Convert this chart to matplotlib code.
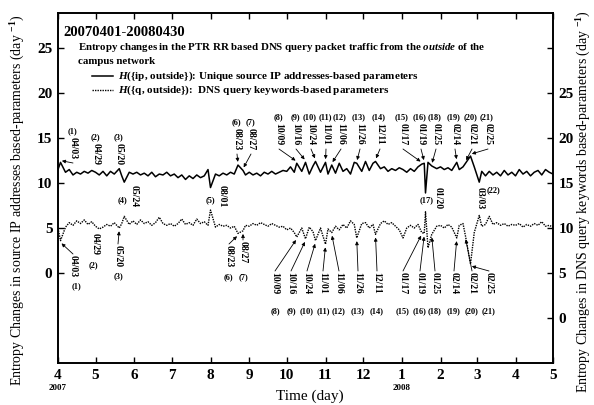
import matplotlib
matplotlib.use("Agg")
import matplotlib.pyplot as plt
from matplotlib.lines import Line2D

plt.rcParams['font.family'] = ['Liberation Serif', 'DejaVu Serif']
plt.rcParams['mathtext.fontset'] = 'custom'
plt.rcParams['mathtext.rm'] = 'Liberation Serif:bold'
plt.rcParams['mathtext.it'] = 'Liberation Serif:italic:bold'
plt.rcParams['mathtext.bf'] = 'Liberation Serif:bold'

W, H = 594, 405

# days since 2007-04-01 (about one sample every third day, event days kept)
days = [0, 2, 6, 9, 12, 15, 18, 21, 24, 27,
        30, 33, 36, 39, 42, 45, 49, 51, 53, 57, 60,
        63, 66, 69, 72, 75, 78, 81, 84, 87, 90,
        93, 96, 99, 102, 105, 108, 111, 114, 117, 120,
        122, 126, 129, 132, 135, 138, 141, 144, 148, 150,
        153, 156, 159, 162, 165, 168, 171, 174, 177, 180,
        183, 186, 189, 191, 195, 198, 201, 204, 206, 210,
        214, 216, 219, 222, 225, 228, 231, 234, 237, 239, 243,
        246, 249, 252, 254, 258, 261, 264, 267, 270, 273,
        276, 279, 282, 285, 288, 291, 293, 294, 296, 299, 303,
        306, 309, 312, 315, 319, 321, 324, 326, 330, 333,
        337, 339, 342, 345, 348, 351, 354, 357, 360, 363,
        366, 369, 372, 375, 378, 381, 384, 387, 390, 393, 396]

# H({ip, outside}), left axis
ip_outside = [11.5, 12.3, 11.2, 11.5, 10.9, 11.2, 11.0, 11.3, 11.1, 11.4,
              11.2, 10.9, 11.3, 10.8, 11.3, 11.0, 11.6, 10.8, 10.1, 11.2, 11.0,
              11.2, 10.9, 11.1, 10.8, 11.2, 10.7, 11.0, 10.9, 11.2, 10.8,
              11.0, 10.6, 10.9, 10.4, 10.8, 10.5, 10.9, 10.6, 10.8, 11.5,
              9.5, 11.0, 10.8, 11.1, 10.9, 11.2, 11.0, 12.0, 11.4, 10.9,
              11.2, 10.9, 11.1, 10.8, 11.2, 11.0, 11.3, 11.0, 11.2, 11.4,
              11.3, 11.8, 11.2, 12.2, 11.3, 12.3, 11.0, 11.9, 12.4, 11.2,
              12.3, 11.0, 12.0, 11.1, 12.2, 11.3, 11.6, 11.0, 12.3, 12.2, 11.3,
              12.4, 11.4, 12.2, 12.4, 11.6, 11.8, 11.3, 11.6, 11.4, 11.7,
              11.5, 11.2, 11.6, 11.3, 11.8, 12.1, 12.2, 8.9, 12.3, 11.9, 11.6,
              11.8, 11.5, 11.7, 11.4, 12.3, 11.5, 11.8, 12.2, 13.0, 11.8,
              10.1, 11.3, 10.8, 11.3, 10.9, 11.2, 10.8, 11.4, 10.9, 11.2,
              10.8, 11.5, 11.0, 11.3, 10.8, 11.2, 11.4, 10.9, 11.5, 11.2, 11.0]

# H({q, outside}), right axis
q_outside = [10.0, 8.6, 10.1, 10.6, 10.3, 10.8, 10.5, 10.9, 10.4, 10.7,
             10.2, 9.9, 10.1, 10.4, 10.2, 10.6, 10.0, 10.5, 11.3, 10.4, 10.8,
             10.4, 10.9, 10.5, 10.7, 10.3, 10.6, 11.2, 10.5, 10.3, 10.5,
             10.2, 10.5, 11.0, 10.4, 10.6, 10.3, 11.0, 10.5, 10.7, 10.3,
             12.0, 10.1, 10.4, 10.2, 10.3, 10.0, 10.2, 9.4, 9.7, 10.3,
             10.2, 10.5, 10.3, 10.6, 10.4, 10.2, 10.5, 10.3, 10.1, 10.2,
             9.8, 10.0, 9.5, 9.0, 10.0, 8.8, 10.1, 9.6, 8.6, 10.0,
             8.2, 9.9, 9.5, 10.2, 9.8, 10.4, 10.0, 10.8, 10.4, 8.9, 10.5,
             10.6, 10.0, 10.4, 9.3, 10.5, 10.8, 10.4, 10.6, 10.2, 9.8,
             8.9, 10.0, 10.3, 10.0, 10.4, 9.5, 9.4, 11.8, 7.8, 9.3, 10.2,
             10.3, 10.0, 10.4, 10.1, 8.9, 10.3, 10.5, 9.1, 6.0, 9.5,
             11.4, 10.2, 10.4, 11.3, 10.4, 10.6, 10.3, 10.5, 10.2, 10.4,
             10.3, 10.5, 10.1, 10.4, 10.2, 10.5, 10.3, 10.7, 10.2, 10.3, 10.1]

month_starts = [0, 30, 61, 91, 122, 153, 183, 214, 244, 275, 306, 335, 366, 396]
month_labels = ['4', '5', '6', '7', '8', '9', '10', '11', '12', '1', '2', '3', '4', '5']

event_no = [1, 2, 3, 4, 5, 6, 7, 8, 9, 10, 11, 12, 13, 14, 15, 16, 17, 18, 19, 20, 21, 22]
event_date = ['04/03', '04/29', '05/20', '05/24', '08/01', '08/23', '08/27', '10/09',
              '10/16', '10/24', '11/01', '11/06', '11/26', '12/11', '01/17', '01/19',
              '01/20', '01/25', '02/14', '02/21', '02/25', '03/03']
event_day = [2, 28, 49, 53, 122, 144, 148, 191, 198, 206, 214, 219, 239, 254,
             291, 293, 294, 299, 319, 326, 330, 337]

# label layout in image pixels
# above the ip line: n -> (x, y of "(n)", arrow?)
ip_top = {1: (72, 131, True), 2: (95, 137, False), 3: (118, 137, False),
          6: (236, 122, True), 7: (250, 122, True), 8: (278, 117, True),
          9: (295, 117, True), 10: (310, 117, True), 11: (325, 117, True),
          12: (340, 117, True), 13: (359, 117, True), 14: (379, 117, True),
          15: (402, 117, True), 16: (420, 117, True), 18: (435, 117, True),
          19: (454, 117, True), 20: (471, 117, True), 21: (487, 117, True)}
# under the ip line: n -> (date x, date top, "(n)" x, "(n)" y)
ip_under = {4: (134, 185, 123, 200), 5: (222, 185, 210, 200),
            17: (438, 187, 427, 200), 22: (480, 187, 493, 190)}
# under the q line: n -> (date x, date top, "(n)" x, "(n)" y, arrow?)
q_under = {1: (73, 255, 76, 286, True), 2: (95, 233, 93, 265, False),
           3: (118, 245, 118, 276, True), 6: (229, 245, 228, 277, True),
           7: (243, 241, 243, 277, True)}
for n, x in zip([8, 9, 10, 11, 12, 13, 14, 15, 16, 18, 19, 20, 21],
                [275, 291, 307, 323, 339, 358, 377, 403, 420, 435, 454, 472, 489]):
    q_under[n] = (x, 272, x, 311, True)


def fx(x):
    return x / W


def fy(y):
    return 1 - y / H


fig = plt.figure(figsize=(W / 100, H / 100), dpi=100)
ax = fig.add_axes([fx(58), fy(363), (553 - 58) / W, (363 - 13) / H])
ax2 = ax.twinx()

ax.plot(days, ip_outside, color='k', lw=1.1)
ax2.plot(days, q_outside, color='k', lw=1.0, linestyle=(0, (1, 0.8)))

ax.set_xlim(0, 396)
ax.set_ylim(-10, 28.9)
ax2.set_ylim(-5, 33.9)

ax.set_xticks(month_starts)
ax.set_xticklabels(month_labels)
ax.set_yticks([0, 5, 10, 15, 20, 25])
ax2.set_yticks([0, 5, 10, 15, 20, 25, 30])
ax2.set_yticklabels(['0', '5', '10', '15', '20', '25', ''])

ax.tick_params(axis='both', direction='in', length=4, width=1, labelsize=11, pad=4)
ax.tick_params(axis='x', top=True)
ax2.tick_params(axis='y', direction='in', length=4, width=1, labelsize=11, pad=4)
for a in (ax, ax2):
    for lab in a.get_xticklabels() + a.get_yticklabels():
        lab.set_fontweight('bold')
    for s in a.spines.values():
        s.set_linewidth(1.2)

kw = dict(fontsize=7, fontweight='bold', ha='center')
nkw = dict(fontsize=6, fontweight='bold', ha='center')
arrow = dict(arrowstyle='-|>', color='k', lw=0.6, mutation_scale=5, shrinkA=0, shrinkB=1)

for n, date, day in zip(event_no, event_date, event_day):
    i = min(range(len(days)), key=lambda k: abs(days[k] - day))
    if n in ip_top:
        x, yn, has_arrow = ip_top[n]
        fig.text(fx(x), fy(yn), '(%d)' % n, va='center', **nkw)
        fig.text(fx(x + 1), fy(yn + 6), date, rotation=270, va='top', **kw)
        if has_arrow:
            ax.annotate('', xy=(day, ip_outside[i] + 0.2), xycoords='data',
                        xytext=(x + 1, H - (yn + 32)), textcoords='figure pixels',
                        arrowprops=arrow)
    if n in ip_under:
        x, top, xn, yn = ip_under[n]
        fig.text(fx(x), fy(top), date, rotation=270, va='top', **kw)
        fig.text(fx(xn), fy(yn), '(%d)' % n, va='center', **nkw)
    if n in q_under:
        x, top, xn, yn, has_arrow = q_under[n]
        fig.text(fx(x), fy(top), date, rotation=270, va='top', **kw)
        fig.text(fx(xn), fy(yn), '(%d)' % n, va='center', **nkw)
        if has_arrow:
            ax2.annotate('', xy=(day, q_outside[i] - 0.2), xycoords='data',
                         xytext=(x, H - (top - 1)), textcoords='figure pixels',
                         arrowprops=arrow)

# titles and legend inside the frame
fig.text(fx(63), fy(33), '20070401-20080430', fontsize=10.5, fontweight='bold', va='center')
fig.text(fx(78), fy(47), 'Entropy changes in the PTR RR based DNS query packet traffic from the '
         r'$outside$ of the', fontsize=7.8, fontweight='bold', va='center')
fig.text(fx(78), fy(61), 'campus network', fontsize=7.8, fontweight='bold', va='center')
fig.add_artist(Line2D([fx(92), fx(113)], [fy(76), fy(76)], color='k', lw=1.1))
fig.add_artist(Line2D([fx(92), fx(113)], [fy(90), fy(90)], color='k', lw=1.0,
                      linestyle=(0, (1, 0.8))))
fig.text(fx(118), fy(76), r'$H$({ip, outside}): Unique source IP addresses-based parameters',
         fontsize=8, fontweight='bold', va='center')
fig.text(fx(118), fy(90), r'$H$({q, outside}):  DNS query keywords-based parameters',
         fontsize=8, fontweight='bold', va='center')

# axis titles
fig.text(fx(18), fy(200), 'Entropy Changes in source IP addresses based-parameters (day $^{-1}$)',
         rotation=90, ha='center', va='center', fontsize=10)
fig.text(fx(584), fy(202), 'Entropy Changes in DNS query keywords based-parameters (day $^{-1}$)',
         rotation=90, ha='center', va='center', fontsize=10)
fig.text(fx(310), fy(396), 'Time (day)', ha='center', va='center', fontsize=11)
fig.text(fx(58), fy(388), '2007', ha='center', va='center', fontsize=6.5, fontweight='bold')
fig.text(fx(402), fy(388), '2008', ha='center', va='center', fontsize=6.5, fontweight='bold')

fig.savefig('out.png', dpi=100)
